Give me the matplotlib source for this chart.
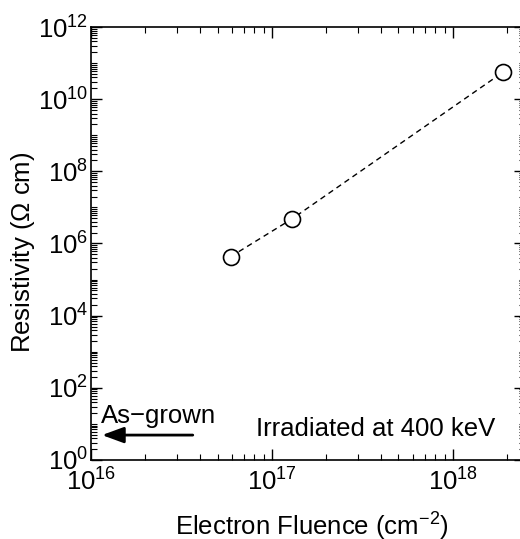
import matplotlib
matplotlib.use("Agg")
import matplotlib.pyplot as plt
from matplotlib.ticker import LogLocator, NullFormatter

plt.rcParams["font.family"] = ["Liberation Sans", "DejaVu Sans"]
plt.rcParams["mathtext.fontset"] = "custom"
plt.rcParams["mathtext.rm"] = "Liberation Sans"
plt.rcParams["mathtext.it"] = "Liberation Sans:italic"
plt.rcParams["mathtext.default"] = "regular"

# Data
fluence = [5.9e16, 1.29e17, 1.89e18]
resistivity = [4.3e5, 4.8e6, 5.6e10]

# Figure config
fig = plt.figure(figsize=(5.2, 5.39), dpi=100)
ax = fig.add_axes([0.175, 0.1466, 0.8346, 0.8033])

ax.plot(fluence, resistivity, color="k", ls=(0, (4, 3)), lw=1.0,
        marker="o", ms=11.5, mfc="white", mec="k", mew=1.2)

ax.set_xscale("log")
ax.set_yscale("log")
ax.set_xlim(1e16, 2.5e18)
ax.set_ylim(1e0, 1e12)

ax.yaxis.set_major_locator(LogLocator(base=100, numticks=20))
ax.yaxis.set_minor_locator(LogLocator(base=10, subs=range(1, 10), numticks=100))
ax.yaxis.set_minor_formatter(NullFormatter())
ax.xaxis.set_minor_locator(LogLocator(base=10, subs=range(2, 10), numticks=100))
ax.xaxis.set_minor_formatter(NullFormatter())

ax.tick_params(which="both", direction="in", top=True, right=True)
ax.tick_params(which="major", length=8, width=1.0, labelsize=18.5, pad=2)
ax.tick_params(axis="x", which="major", pad=6)
ax.tick_params(which="minor", length=4, width=0.8)
for s in ax.spines.values():
    s.set_linewidth(1.2)

ax.set_xlabel(r"Electron Fluence (cm$^{-2}$)", fontsize=18.5)
ax.set_ylabel(r"Resistivity ($\Omega$ cm)", fontsize=18.5)
ax.xaxis.set_label_coords(0.51, -0.118)
ax.yaxis.set_label_coords(-0.125, 0.48)

# annotations
ax.annotate("", xy=(1.15e16, 4.9), xytext=(3.65e16, 4.9),
            arrowprops=dict(arrowstyle="-|>,head_length=0.6,head_width=0.22",
                            color="k", lw=2.0, mutation_scale=22,
                            shrinkA=0, shrinkB=0))
ax.text(1.14e16, 10.6, "As\u2212grown", fontsize=18.5, va="baseline", ha="left")
ax.text(8.2e16, 4.6, "Irradiated at 400 keV", fontsize=18.5,
        va="baseline", ha="left")

fig.savefig("out.png", dpi=100)
